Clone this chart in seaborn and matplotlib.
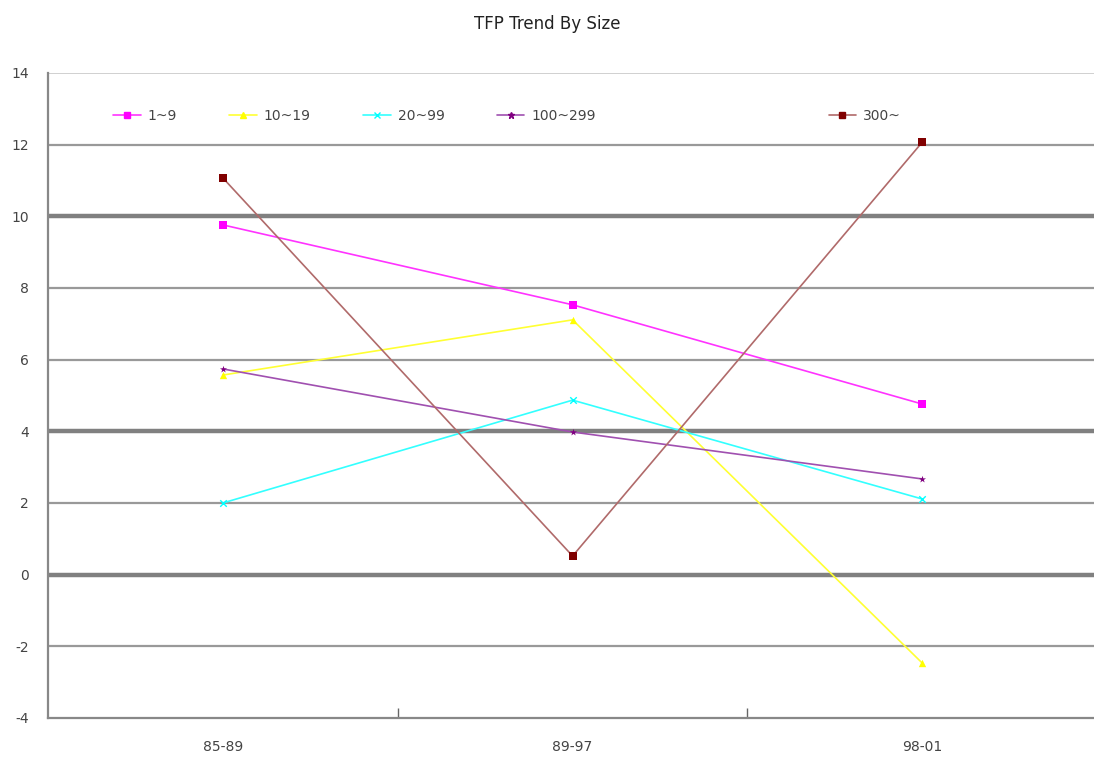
import matplotlib
matplotlib.use('Agg')
import matplotlib.pyplot as plt
import seaborn as sns
import pandas as pd
from matplotlib.lines import Line2D

periods = ['85-89', '89-97', '98-01']
sizes = ['1~9', '10~19', '20~99', '100~299', '300~']
tfp_1_9 = [9.76, 7.53, 4.76]
tfp_10_19 = [5.57, 7.11, -2.47]
tfp_20_99 = [2.0, 4.87, 2.11]
tfp_100_299 = [5.74, 3.98, 2.67]
tfp_300 = [11.07, 0.52, 12.07]

rows = []
for name, vals in zip(sizes, [tfp_1_9, tfp_10_19, tfp_20_99, tfp_100_299, tfp_300]):
    for p, v in zip(periods, vals):
        rows.append({'period': p, 'size': name, 'tfp': v})
df = pd.DataFrame(rows)

line_colors = {'1~9': '#FF33FF', '10~19': '#FFFF33', '20~99': '#33FFFF',
               '100~299': '#A050B0', '300~': '#B06A6A'}
marker_colors = {'1~9': '#FF00FF', '10~19': '#FFFF00', '20~99': '#00FFFF',
                 '100~299': '#800080', '300~': '#800000'}
markers = {'1~9': 's', '10~19': '^', '20~99': 'x', '100~299': '*', '300~': 's'}

sns.set_style('white')
plt.rcParams['font.family'] = ['DejaVu Sans']
plt.rcParams['axes.unicode_minus'] = False

fig = plt.figure(figsize=(10.94, 7.6), dpi=100)
ax = fig.add_axes([0.0439, 0.0553, 0.959, 0.8487])

# grid lines first (thin and thick like the original)
for y in [-2, 2, 6, 8, 12]:
    ax.axhline(y, color='#999999', lw=1.6, zorder=0)
for y in [0, 4, 10]:
    ax.axhline(y, color='#808080', lw=3.2, zorder=0)
ax.axhline(14, color='#c8c8c8', lw=1.2, zorder=0)

sns.lineplot(data=df, x='period', y='tfp', hue='size', palette=line_colors,
             sort=False, lw=1.2, legend=False, ax=ax, zorder=3)

# markers in darker colours
for name in sizes:
    sub = df[df['size'] == name]
    sns.scatterplot(data=sub, x='period', y='tfp', color=marker_colors[name],
                    marker=markers[name], s=28 if markers[name] != 'x' else 22,
                    linewidth=1 if markers[name] == 'x' else 0, ax=ax, zorder=4,
                    legend=False)

ax.set_xlim(-0.5, 2.5)
ax.set_ylim(-4, 14)
ax.set_yticks(range(-4, 15, 2))
ax.set_xlabel('')
ax.set_ylabel('')
ax.set_xticks([0, 1, 2])
ax.set_xticklabels(periods)
ax.set_xticks([0.5, 1.5], minor=True)
ax.tick_params(axis='x', which='major', bottom=False, length=0, pad=16,
               labelsize=10, labelcolor='#444444')
ax.tick_params(axis='x', which='minor', bottom=True, direction='in', length=7,
               color='#666666', width=1)
ax.tick_params(axis='y', length=0, pad=14, labelsize=10, labelcolor='#444444')

for side in ['top', 'right']:
    ax.spines[side].set_visible(False)
ax.spines['left'].set_color('#888888')
ax.spines['left'].set_linewidth(1.6)
ax.spines['bottom'].set_color('#888888')
ax.spines['bottom'].set_linewidth(1.6)

def handle(name):
    return Line2D([], [], color=line_colors[name], lw=1.2, marker=markers[name],
                  markerfacecolor=marker_colors[name], markeredgecolor=marker_colors[name],
                  markersize=5)

leg1 = ax.legend(handles=[handle(n) for n in sizes[:4]], labels=sizes[:4], ncol=4,
                 frameon=False, loc='center left', bbox_to_anchor=(0.05, 0.934),
                 handlelength=2.0, handletextpad=0.5, columnspacing=3.75,
                 prop={'size': 10})
for t in leg1.get_texts():
    t.set_color('#444444')
ax.add_artist(leg1)
leg2 = ax.legend(handles=[handle('300~')], labels=['300~'], frameon=False,
                 loc='center left', bbox_to_anchor=(0.732, 0.934),
                 handlelength=2.0, handletextpad=0.5, prop={'size': 10})
for t in leg2.get_texts():
    t.set_color('#444444')

fig.suptitle('TFP Trend By Size', y=0.98, fontsize=12, color='#222222')

fig.savefig('out.png', dpi=100, facecolor='white')
